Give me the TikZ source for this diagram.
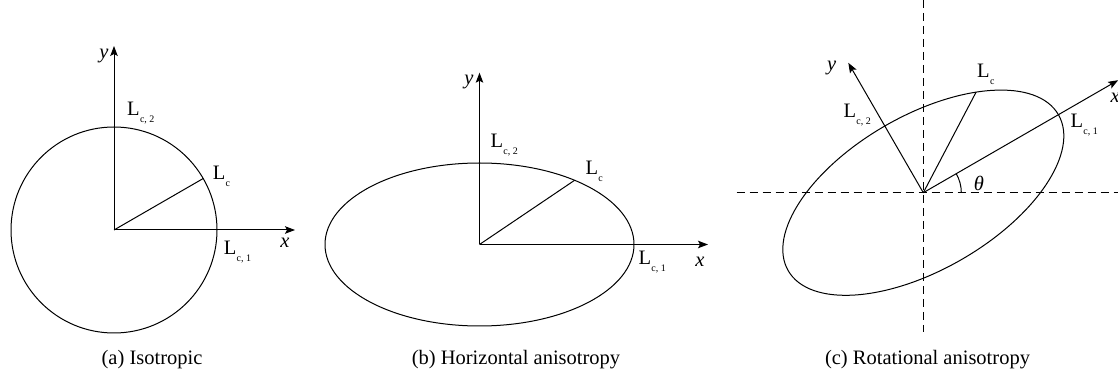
\documentclass[tikz,border=0pt]{standalone}
\usepackage{fontspec}
\setmainfont{Liberation Serif}
\usetikzlibrary{arrows.meta,calc}
\newcommand\Lsub[1]{L\kern0.3pt\raisebox{-0.34em}{\fontsize{10}{10}\selectfont #1}}
\begin{document}
\begin{tikzpicture}[x=1pt,y=1pt,
  line width=1pt,
  axis/.style={-{Stealth[length=10pt,width=7.5pt,inset=2pt]}},
  guide/.style={dash pattern=on 8pt off 5pt},
  lbl/.style={inner sep=0pt,font=\fontsize{20.5}{24}\selectfont},
  captext/.style={inner sep=0pt,anchor=base,font=\fontsize{20.5}{24}\selectfont}]
\useasboundingbox (0,0) rectangle (1118,377);
% ---------- (a) ----------
\coordinate (oa) at (114,147);
\coordinate (ya) at (114,331);
\coordinate (xa) at (295,147);
\coordinate (pa) at ($(oa)+(30:103)$);
\draw (oa) circle[radius=103];
\draw[axis] (oa) -- (ya);
\draw[axis] (oa) -- (xa);
\draw (oa) -- (pa);
\node[lbl] (ylaba) at (104,321) {\textit{y}};
\node[lbl,anchor=base west] (l2a) at (126.7,261) {\Lsub{c, 2}};
\node[lbl,anchor=base west] (lca) at (212.3,197) {\Lsub{c}};
\node[lbl,anchor=base west] (l1a) at (223.3,122) {\Lsub{c, 1}};
\node[lbl] (xlaba) at (285,134) {\textit{x}};
\node[captext] (capa) at (152,12) {(a) Isotropic};
% ---------- (b) ----------
\coordinate (ob) at (479.5,132.5);
\coordinate (yb) at (479.5,304.3);
\coordinate (xb) at (708,132.5);
\coordinate (pb) at ($(ob)+(95.1,64.2)$);
\draw (ob) ellipse[x radius=154.5,y radius=81.5];
\draw[axis] (ob) -- (yb);
\draw[axis] (ob) -- (xb);
\draw (ob) -- (pb);
\node[lbl] (ylabb) at (469,295.3) {\textit{y}};
\node[lbl,anchor=base west] (l2b) at (490,229) {\Lsub{c, 2}};
\node[lbl,anchor=base west] (lcb) at (585,202) {\Lsub{c}};
\node[lbl,anchor=base west] (l1b) at (638,112) {\Lsub{c, 1}};
\node[lbl] (xlabb) at (700,115.3) {\textit{x}};
\node[captext] (capb) at (516,12) {(b) Horizontal anisotropy};
% ---------- (c) ----------
\coordinate (oc) at (923.3,184.3);
\coordinate (hl) at (736.7,184.3);
\coordinate (hr) at (1118,184.3);
\coordinate (vt) at (923.3,377);
\coordinate (vb) at (923.3,45.3);
\coordinate (xc) at ($(oc)+(30:225)$);
\coordinate (yc) at ($(oc)+(120:150)$);
\coordinate (pc) at ($(oc)+(52.8,100.6)$);
\draw[guide] (hl) -- (hr);
\draw[guide] (vt) -- (vb);
\draw[rotate around={30:(oc)}] (oc) ellipse[x radius=156,y radius=77];
\draw[axis] (oc) -- (xc);
\draw[axis] (oc) -- (yc);
\draw (oc) -- (pc);
\draw ($(oc)+(38,0)$) arc[start angle=0,end angle=30,radius=38];
\node[lbl] (ylabc) at (831.7,308.7) {\textit{y}};
\node[lbl,anchor=west] (xlabc) at (1110,279) {\textit{x}};
\node[lbl] (thc) at (979,194) {\textit{θ}};
\node[lbl,anchor=base west] (l2c) at (843,259) {\Lsub{c, 2}};
\node[lbl,anchor=base west] (lcc) at (976.7,299) {\Lsub{c}};
\node[lbl,anchor=base west] (l1c) at (1070,249) {\Lsub{c, 1}};
\node[captext] (capc) at (927.5,12) {(c) Rotational anisotropy};
\end{tikzpicture}
\end{document}
